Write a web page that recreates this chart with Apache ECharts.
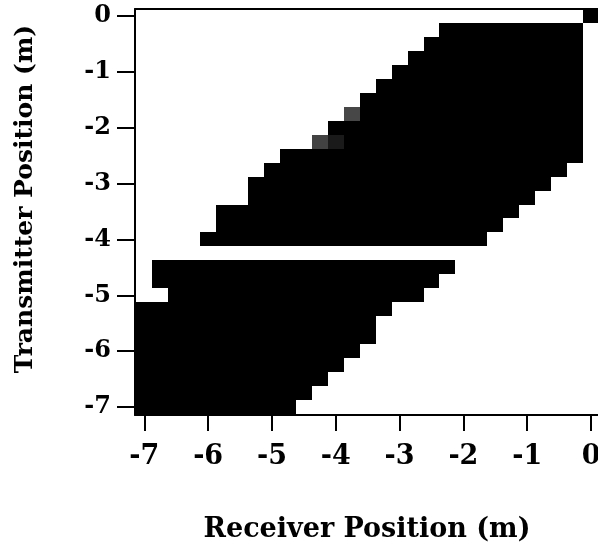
<!DOCTYPE html>
<html>
<head>
<meta charset="utf-8">
<script src="https://cdn.jsdelivr.net/npm/echarts@6/dist/echarts.min.js"></script>
<style>
  html, body { margin: 0; padding: 0; background: #fff; }
  #chart { width: 598px; height: 548px; }
</style>
</head>
<body>
<div id="chart"></div>
<script>
// Coverage map: for each transmitter position, the run of receiver
// positions (cell centres, 0.25 m grid) that are filled.
const transmitterPos = [
  0, -0.25, -0.5, -0.75, -1.0, -1.25, -1.5, -1.75, -2.0, -2.25, -2.5,
  -2.75, -3.0, -3.25, -3.5, -3.75, -4.0,
  -4.5, -4.75, -5.0, -5.25, -5.5, -5.75, -6.0, -6.25, -6.5, -6.75, -7.0
];
const receiverStart = [
  0, -2.25, -2.5, -2.75, -3.0, -3.25, -3.5, -3.5, -4.0, -3.75, -4.75,
  -5.0, -5.25, -5.25, -5.75, -5.75, -6.0,
  -6.75, -6.75, -6.5, -7.0, -7.0, -7.0, -7.0, -7.0, -7.0, -7.0, -7.0
];
const receiverEnd = [
  0, -0.25, -0.25, -0.25, -0.25, -0.25, -0.25, -0.25, -0.25, -0.25, -0.25,
  -0.5, -0.75, -1.0, -1.25, -1.5, -1.75,
  -2.25, -2.5, -2.75, -3.25, -3.5, -3.5, -3.75, -4.0, -4.25, -4.5, -4.75
];

// Cells with a partial (grey) level
const partialRx = [-3.75, -4.25, -4.0];
const partialTx = [-1.75, -2.25, -2.25];
const partialLevel = [0.72, 0.74, 0.9];

const tickValues = [-7, -6, -5, -4, -3, -2, -1, 0];
const halfCell = 0.125;

const runs = [];
transmitterPos.forEach((tx, i) => {
  runs.push([receiverStart[i], receiverEnd[i], tx, 1]);
});
partialRx.forEach((rx, i) => {
  runs.push([rx, rx, partialTx[i], partialLevel[i]]);
});

const font = 'DejaVu Serif';
const chart = echarts.init(document.getElementById('chart'), null, { renderer: 'canvas' });

chart.setOption({
  animation: false,
  backgroundColor: '#ffffff',
  grid: {
    left: 135, top: 9, width: 464, height: 406,
    containLabel: false,
    outerBoundsMode: 'none'
  },
  visualMap: {
    show: false,
    type: 'continuous',
    dimension: 3,
    min: 0,
    max: 1,
    inRange: { color: ['#ffffff', '#000000'] }
  },
  graphic: [{
    type: 'text',
    x: 25,
    y: 199,
    rotation: Math.PI / 2,
    style: {
      text: 'Transmitter Position (m)',
      fill: '#000',
      fontFamily: font,
      fontWeight: 'bold',
      fontSize: 25,
      align: 'center',
      verticalAlign: 'middle'
    }
  }],
  xAxis: [{
    type: 'value',
    min: -7.146,
    max: 0.125,
    position: 'bottom',
    splitLine: { show: false },
    axisLine: { show: true, onZero: false, lineStyle: { color: '#000', width: 2 } },
    axisTick: { show: true, customValues: tickValues, length: 16, inside: false,
      lineStyle: { color: '#000', width: 2 } },
    axisLabel: { customValues: tickValues, color: '#000', fontFamily: font,
      fontWeight: 'bold', fontSize: 27, margin: 28 },
    name: 'Receiver Position (m)',
    nameLocation: 'middle',
    nameGap: 101,
    nameTextStyle: { color: '#000', fontFamily: font, fontWeight: 'bold', fontSize: 27 }
  }, {
    type: 'value',
    min: -7.146,
    max: 0.125,
    position: 'top',
    splitLine: { show: false },
    axisLine: { show: true, onZero: false, lineStyle: { color: '#000', width: 2 } },
    axisTick: { show: false },
    axisLabel: { show: false }
  }],
  yAxis: {
    type: 'value',
    min: -7.143,
    max: 0.125,
    splitLine: { show: false },
    axisLine: { show: true, onZero: false, lineStyle: { color: '#000', width: 2 } },
    axisTick: { show: true, customValues: tickValues, length: 18, inside: false,
      lineStyle: { color: '#000', width: 2 } },
    axisLabel: { customValues: tickValues, color: '#000', fontFamily: font,
      fontWeight: 'bold', fontSize: 24, margin: 24 }
  },
  series: [{
    type: 'custom',
    xAxisIndex: 0,
    yAxisIndex: 0,
    data: runs,
    encode: { x: [0, 1], y: 2 },
    renderItem: function (params, api) {
      // Snap cell edges to whole pixels so neighbouring rows join cleanly
      const p0 = api.coord([api.value(0) - halfCell, api.value(2) + halfCell]);
      const p1 = api.coord([api.value(1) + halfCell, api.value(2) - halfCell]);
      const x0 = Math.round(p0[0]), y0 = Math.round(p0[1]);
      const x1 = Math.round(p1[0]), y1 = Math.round(p1[1]);
      return {
        type: 'rect',
        shape: { x: x0, y: y0, width: x1 - x0, height: y1 - y0 },
        style: { fill: api.visual('color') }
      };
    }
  }]
});
</script>
</body>
</html>
